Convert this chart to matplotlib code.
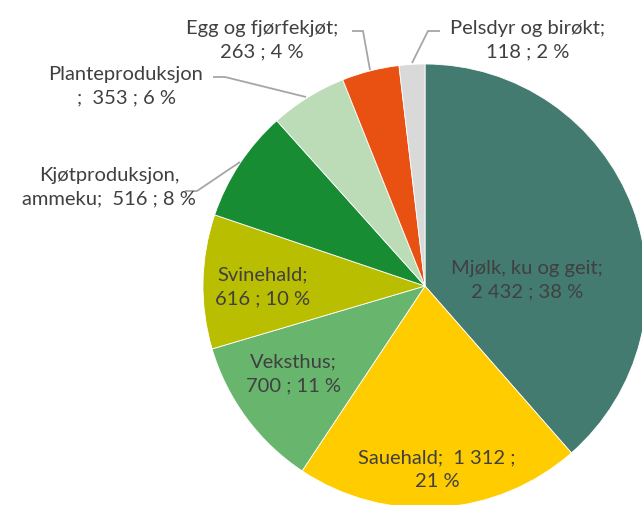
import matplotlib
matplotlib.use("Agg")
import matplotlib.pyplot as plt

# Production value by sector (clockwise from 12 o'clock)
categories = ["Mjølk, ku og geit", "Sauehald", "Veksthus", "Svinehald",
              "Kjøtproduksjon, ammeku", "Planteproduksjon",
              "Egg og fjørfekjøt", "Pelsdyr og birøkt"]
values = [2432, 1312, 700, 616, 516, 353, 263, 118]
percents = [38, 21, 11, 10, 8, 6, 4, 2]
colors = ["#447B71", "#FFCC00", "#68B56E", "#B9BE00",
          "#178C33", "#BBDCB7", "#E95112", "#D9D9D9"]

# Label text layout per slice
templates = [
    "Mjølk, ku og geit;\n{v} ; {p} %",
    "Sauehald;  {v} ;\n{p} %",
    "Veksthus;\n{v} ; {p} %",
    "Svinehald;\n{v} ; {p} %",
    "Kjøtproduksjon,\nammeku;  {v} ; {p} %",
    "Planteproduksjon\n;  {v} ; {p} %",
    "Egg og fjørfekjøt;\n{v} ; {p} %",
    "Pelsdyr og birøkt;\n{v} ; {p} %",
]

W, H = 642, 506
fig = plt.figure(figsize=(W / 100, H / 100), dpi=100)
ax = fig.add_axes([0, 0, 1, 1])


def up(y):
    return H - y


cx, cy, r = 425, 287, 222
ax.pie(values, colors=colors, startangle=90, counterclock=False,
       center=(cx, up(cy)), radius=r, frame=True,
       wedgeprops=dict(edgecolor="white", linewidth=0.6))
ax.set_xlim(0, W)
ax.set_ylim(0, H)
ax.set_aspect("equal")
ax.axis("off")

# label block centers (x, y from top)
label_pos = [(527, 280), (437, 470), (293, 374), (263, 287),
             (109, 187), (126, 86), (262, 40), (528, 40)]

font = dict(family="Lato", fontsize=14.5, color="#404040",
            ha="center", va="center", linespacing=1.45)

for tpl, v, p, (x, y) in zip(templates, values, percents, label_pos):
    txt = tpl.format(v=f"{v:,}".replace(",", " "), p=p)
    ax.text(x, up(y), txt, **font)

# leader lines for outside labels
leaders = [
    [(185, 192), (197, 192), (240, 163)],
    [(213, 78), (225, 78), (306, 98)],
    [(352, 32), (363, 32), (370, 71)],
    [(440, 32), (428, 32), (412, 64)],
]
for pts in leaders:
    xs = [p[0] for p in pts]
    ys = [up(p[1]) for p in pts]
    ax.plot(xs, ys, color="#A6A6A6", linewidth=1.3, solid_capstyle="butt")

fig.savefig("out.png", dpi=100, facecolor="white")
